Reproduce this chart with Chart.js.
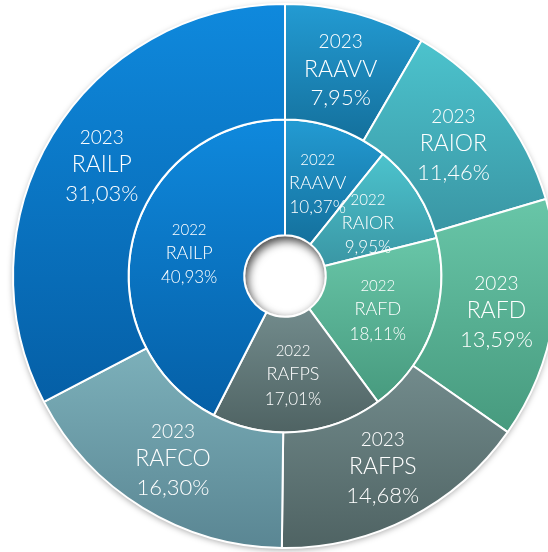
<!DOCTYPE html>
<html>
<head>
<meta charset="utf-8">
<script src="https://cdn.jsdelivr.net/npm/chart.js@4"></script>
<style>
  html, body { margin: 0; padding: 0; overflow: hidden; background: #fff; }
  #wrap { position: absolute; left: 0; top: 0; width: 570px; height: 552px; }
</style>
</head>
<body>
<div id="wrap"><canvas id="ringChart"></canvas></div>
<script>
const labels = ['RAAVV', 'RAIOR', 'RAFD', 'RAFPS', 'RAFCO', 'RAILP'];
const values2023 = [7.95, 11.46, 13.59, 14.68, 16.30, 31.03];
const values2022 = [10.37, 9.95, 18.11, 17.01, null, 40.93];
const years = ['2023', '2022'];

// top / bottom colour of each slice gradient
const sliceColors = [
    ['#239bd3', '#14709c'],
    ['#4cc3cd', '#3a96a4'],
    ['#68c6a8', '#479a7e'],
    ['#728b8c', '#4f6363'],
    ['#7cb0ba', '#5a8693'],
    ['#0f89dd', '#055fa6']
];

function sliceGradient(ctx) {
    const chart = ctx.chart;
    const area = chart.chartArea;
    const pair = sliceColors[ctx.dataIndex];
    if (!area) return pair[0];
    const ctrl = chart.getDatasetMeta(ctx.datasetIndex).controller;
    const rOut = ctrl.outerRadius, rIn = ctrl.innerRadius;
    if (!rOut) return pair[0];
    const vals = chart.data.datasets[ctx.datasetIndex].data;
    const total = vals.reduce((a, b) => a + (b || 0), 0);
    let start = 0;
    for (let k = 0; k < ctx.dataIndex; k++) start += vals[k] || 0;
    const v = vals[ctx.dataIndex] || 0;
    const a0 = start / total * Math.PI * 2 - Math.PI / 2;
    const a1 = (start + v) / total * Math.PI * 2 - Math.PI / 2;
    const cy = (area.top + area.bottom) / 2;
    let yMin = Infinity, yMax = -Infinity;
    for (let s = 0; s <= 60; s++) {
        const a = a0 + (a1 - a0) * s / 60;
        [rIn, rOut].forEach(r => {
            const y = cy + Math.sin(a) * r;
            yMin = Math.min(yMin, y);
            yMax = Math.max(yMax, y);
        });
    }
    if (yMax - yMin < 1) return pair[0];
    const g = chart.ctx.createLinearGradient(0, yMin, 0, yMax);
    g.addColorStop(0, pair[0]);
    g.addColorStop(1, pair[1]);
    return g;
}

const ringDecor = {
    id: 'ringDecor',
    beforeDatasetsDraw(chart) {
        const ctrl = chart.getDatasetMeta(0).controller;
        const a = chart.chartArea;
        const cx = (a.left + a.right) / 2, cy = (a.top + a.bottom) / 2;
        const c = chart.ctx;
        c.save();
        c.shadowColor = 'rgba(0,0,0,0.35)';
        c.shadowBlur = 6;
        c.shadowOffsetY = 2;
        c.fillStyle = '#ffffff';
        c.beginPath();
        c.arc(cx, cy, ctrl.outerRadius, 0, Math.PI * 2);
        c.fill();
        c.restore();
    },
    afterDatasetsDraw(chart) {
        const c = chart.ctx;
        const a = chart.chartArea;
        const cx = (a.left + a.right) / 2, cy = (a.top + a.bottom) / 2;
        const hole = chart.getDatasetMeta(1).controller.innerRadius - 1;

        // inset shadow inside the hole
        c.save();
        c.beginPath();
        c.arc(cx, cy, hole, 0, Math.PI * 2);
        c.clip();
        c.shadowColor = 'rgba(0,0,0,0.75)';
        c.shadowBlur = 10;
        c.shadowOffsetX = 2;
        c.shadowOffsetY = 4;
        c.fillStyle = '#ffffff';
        c.beginPath();
        c.arc(cx, cy, hole + 30, 0, Math.PI * 2);
        c.arc(cx, cy, hole, 0, Math.PI * 2, true);
        c.fill();
        c.restore();

        // slice labels
        c.save();
        c.fillStyle = '#ffffff';
        c.textAlign = 'center';
        c.textBaseline = 'middle';
        chart.data.datasets.forEach((ds, di) => {
            const big = di === 0;
            const meta = chart.getDatasetMeta(di);
            meta.data.forEach((arc, i) => {
                const v = ds.data[i];
                if (v === null || v === undefined) return;
                const p = arc.tooltipPosition();
                const gap = big ? 28 : 24;
                c.font = '300 ' + (big ? 19 : 15) + 'px Lato';
                c.fillText(years[di], p.x, p.y - gap + 1);
                c.font = '300 ' + (big ? 23 : 18) + 'px Lato';
                c.fillText(labels[i], p.x, p.y);
                c.font = '300 ' + (big ? 22 : 17) + 'px Lato';
                c.fillText(v.toFixed(2).replace('.', ',') + '%', p.x, p.y + gap + 1);
            });
        });
        c.restore();
    }
};

new Chart(document.getElementById('ringChart'), {
    type: 'doughnut',
    data: {
        labels: labels,
        datasets: [
            { label: '2023', data: values2023, backgroundColor: sliceGradient, borderColor: '#ffffff', borderWidth: 2 },
            { label: '2022', data: values2022, backgroundColor: sliceGradient, borderColor: '#ffffff', borderWidth: 2 }
        ]
    },
    options: {
        responsive: true,
        maintainAspectRatio: false,
        animation: false,
        radius: 272,
        cutout: '15%',
        layout: { padding: 0 },
        plugins: {
            legend: { display: false },
            tooltip: { enabled: false }
        }
    },
    plugins: [ringDecor]
});
</script>
</body>
</html>
